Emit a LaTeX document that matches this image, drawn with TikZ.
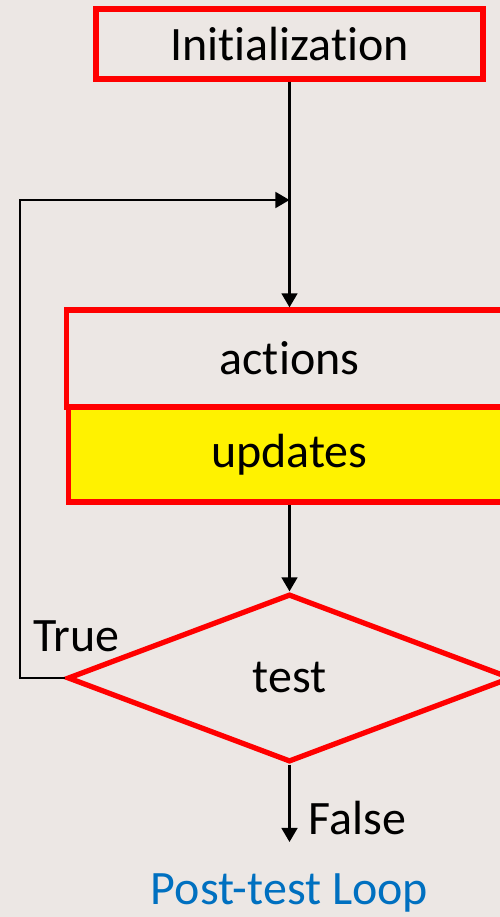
\documentclass[tikz,border=0pt]{standalone}
\usepackage{fontspec}
\setmainfont{Carlito}[Ligatures=NoCommon]
\usetikzlibrary{shapes.geometric,arrows.meta}
\definecolor{paper}{RGB}{236,231,228}
\definecolor{boxred}{RGB}{255,0,0}
\definecolor{loopblue}{RGB}{0,112,192}
\begin{document}
\begin{tikzpicture}[x=1cm, y=1cm, >={Triangle[length=8pt,width=9pt]},
                    flowbox/.style={draw=boxred, line width=3pt, rectangle, inner sep=0pt},
                    flowtext/.style={font=\fontsize{27.3}{31}\selectfont},
                    link/.style={line width=1.3pt}]
                    % Background
                    \fill [paper] (0,0) rectangle (10,-18.34);
                    \useasboundingbox (0,0) rectangle (10,-18.34);
                    \clip (0,0) rectangle (10,-18.34);
                    % Boxes
                    \node [flowbox, flowtext, minimum width=7.74cm, minimum height=1.4cm] (init) at (5.79,-0.88) {Initialization};
                    \node [flowbox, flowtext, minimum width=8.92cm, minimum height=1.94cm] (actions) at (5.79,-7.17) {actions};
                    \node [flowbox, flowtext, fill=yellow, minimum width=8.84cm, minimum height=1.9cm] (updates) at (5.79,-9.09) {updates};
                    \node [flowbox, flowtext, diamond, minimum width=8.88cm, minimum height=3.36cm] (test) at (5.79,-13.56) {test};
                    % Loop points
                    \coordinate (join) at (5.79,-4.0);
                    \coordinate (back) at (0.4,-13.56);
                    \coordinate (exit) at (5.79,-16.84);
                    % Connectors
                    \draw [link, ->] (init.south) -- (actions.north);
                    \draw [link, ->] (updates.south) -- (test.north);
                    \draw [link, ->] (test.west) -- (back) |- (join);
                    \draw [link, ->] (test.south) -- (exit);
                    % Labels
                    \node [flowtext] (truelabel) at (1.53,-12.72) {True};
                    \node [flowtext, anchor=west] (falselabel) at (6.05,-16.36) {False};
                    \node [flowtext, text=loopblue] (caption) at (5.79,-17.86) {Post-test Loop};
\end{tikzpicture}
\end{document}
